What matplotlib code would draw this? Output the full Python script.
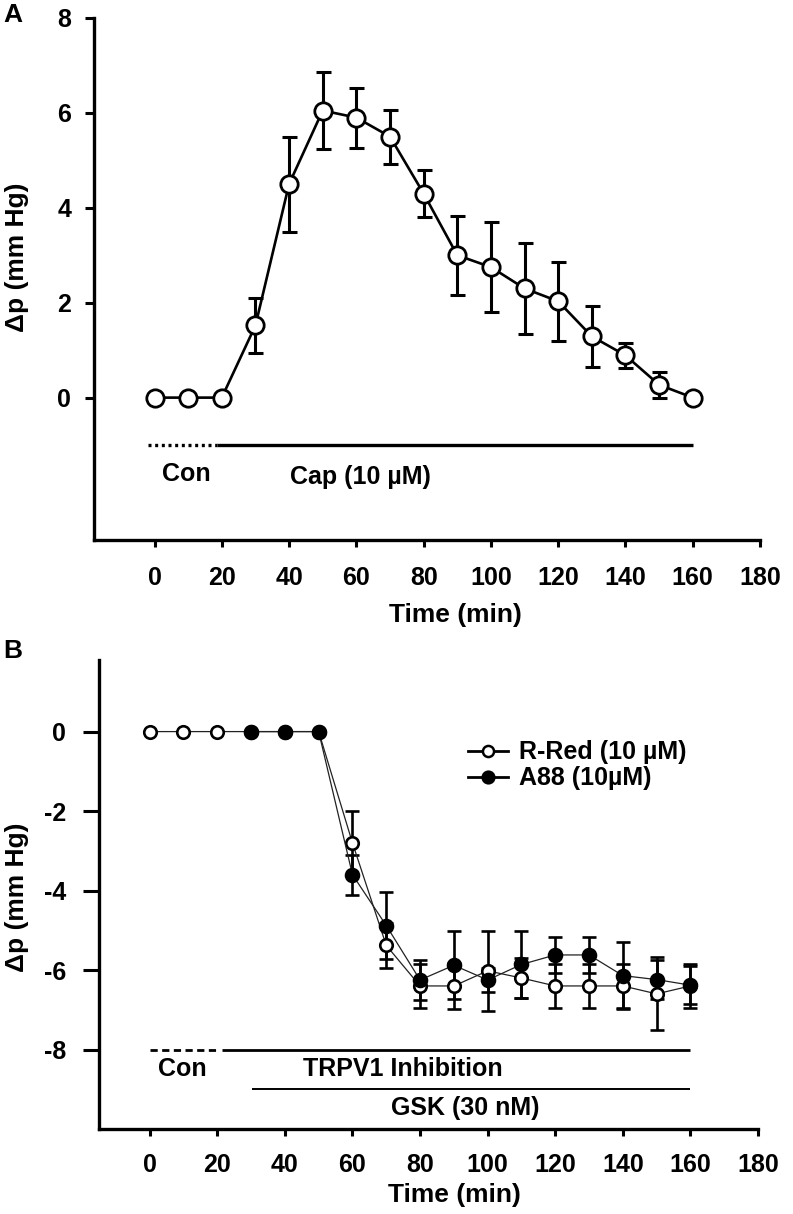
import matplotlib
matplotlib.use("Agg")
import matplotlib.pyplot as plt
from matplotlib.lines import Line2D

plt.rcParams['font.family'] = ['Liberation Sans', 'DejaVu Sans']
plt.rcParams['font.weight'] = 'bold'
plt.rcParams['axes.labelweight'] = 'bold'
plt.rcParams['axes.unicode_minus'] = False
plt.rcParams['font.size'] = 18

# panel A: capsaicin
time_a = [0, 10, 20, 30, 40, 50, 60, 70, 80, 90, 100, 110, 120, 130, 140, 150, 160]
cap_dp = [0, 0, 0, 1.52, 4.5, 6.05, 5.9, 5.5, 4.3, 3.0, 2.75, 2.3, 2.03, 1.29, 0.89, 0.27, 0.0]
cap_err = [0, 0, 0, 0.58, 1.0, 0.82, 0.63, 0.57, 0.5, 0.83, 0.95, 0.95, 0.83, 0.64, 0.27, 0.28, 0]

# panel B: TRPV1 inhibition + GSK
time_rred = [0, 10, 20, 30, 40, 50, 60, 70, 80, 90, 100, 110, 120, 130, 140, 150, 160]
rred_dp = [0, 0, 0, 0, 0, 0, -2.8, -5.38, -6.4, -6.4, -6.02, -6.2, -6.4, -6.4, -6.4, -6.6, -6.4]
rred_err = [0, 0, 0, 0, 0, 0, 0.8, 0.56, 0.56, 0.57, 1.0, 0.5, 0.56, 0.56, 0.56, 0.92, 0.56]
time_a88 = [30, 40, 50, 60, 70, 80, 90, 100, 110, 120, 130, 140, 150, 160]
a88_dp = [0, 0, 0, -3.6, -4.88, -6.25, -5.88, -6.25, -5.86, -5.62, -5.62, -6.14, -6.24, -6.38]
a88_err = [0, 0, 0, 0.5, 0.85, 0.5, 0.86, 0.3, 0.85, 0.46, 0.46, 0.85, 0.5, 0.48]

xticks = [0, 20, 40, 60, 80, 100, 120, 140, 160, 180]


def style_axes(ax, ytick_len, ypad, xpad):
    for s in ['top', 'right']:
        ax.spines[s].set_visible(False)
    for s in ['left', 'bottom']:
        ax.spines[s].set_linewidth(2.4)
    ax.tick_params(axis='x', direction='out', length=5, width=2.2, pad=xpad)
    ax.tick_params(axis='y', direction='out', length=ytick_len, width=2.2, pad=ypad)
    ax.set_xticks(xticks)


fig = plt.figure(figsize=(7.93, 12.14), dpi=100)

# ---- panel A
ax1 = fig.add_axes([0.1185, 0.5552, 0.8399, 0.4300])
ax1.errorbar(time_a, cap_dp, yerr=cap_err, fmt='none', ecolor='black',
             elinewidth=2.2, capsize=5.4, capthick=2.2, zorder=2)
ax1.plot(time_a, cap_dp, '-o', color='black', lw=1.9, ms=12.5, mew=2.0,
         mfc='white', mec='black', zorder=3)
ax1.plot([-2, 18.5], [-1, -1], color='black', lw=2.4, dashes=(0.9, 1.1),
         solid_capstyle='butt')
ax1.plot([18.5, 160], [-1, -1], color='black', lw=2.4, solid_capstyle='butt')
ax1.text(9.5, -1.62, 'Con', ha='center', va='center')
ax1.text(61.3, -1.68, 'Cap (10 µM)', ha='center', va='center')
ax1.set_xlim(-18, 180)
ax1.set_ylim(-3, 8)
ax1.set_yticks([0, 2, 4, 6, 8])
style_axes(ax1, 6.5, 10, 14)
ax1.set_xlabel('Time (min)', fontsize=19)
ax1.set_ylabel('Δp (mm Hg)', fontsize=19)
ax1.xaxis.set_label_coords(0.543, -0.121)
ax1.yaxis.set_label_coords(-0.098, 0.542)
fig.text(0.016, 0.988, 'A', fontsize=19, ha='center', va='center')

# ---- panel B
ax2 = fig.add_axes([0.1248, 0.0700, 0.8311, 0.3863])
ax2.errorbar(time_rred, rred_dp, yerr=rred_err, fmt='none', ecolor='black',
             elinewidth=1.9, capsize=4.7, capthick=1.9, zorder=2)
ax2.errorbar(time_a88, a88_dp, yerr=a88_err, fmt='none', ecolor='black',
             elinewidth=1.9, capsize=4.7, capthick=1.9, zorder=2)
ax2.plot(time_rred, rred_dp, '-o', color='#222222', lw=0.9, ms=9, mew=1.9,
         mfc='white', mec='black', zorder=3)
ax2.plot(time_a88, a88_dp, '-o', color='#222222', lw=0.9, ms=10, mew=1.2,
         mfc='black', mec='black', zorder=4)
ax2.plot([0, 19.5], [-8, -8], color='black', lw=2.0, dashes=(2.6, 1.6),
         solid_capstyle='butt')
ax2.plot([21.3, 160], [-8, -8], color='black', lw=2.0, solid_capstyle='butt')
ax2.plot([30.2, 160], [-9, -9], color='black', lw=1.4, solid_capstyle='butt')
ax2.text(9.8, -8.5, 'Con', ha='center', va='center')
ax2.text(74.9, -8.5, 'TRPV1 Inhibition', ha='center', va='center')
ax2.text(93.5, -9.47, 'GSK (30 nM)', ha='center', va='center')
handles = [
    Line2D([], [], color='black', lw=2.0, marker='o', ms=8, mew=1.8,
           mfc='white', mec='black'),
    Line2D([], [], color='black', lw=2.0, marker='o', ms=9, mew=1.2,
           mfc='black', mec='black'),
]
ax2.legend(handles, ['R-Red (10 µM)', 'A88 (10µM)'], loc='upper left',
           bbox_to_anchor=(0.545, 0.85), frameon=False, borderaxespad=0,
           handlelength=1.6, handletextpad=0.45, labelspacing=0.08,
           fontsize=18)
ax2.set_xlim(-15, 180)
ax2.set_ylim(-10, 1.8)
ax2.set_yticks([0, -2, -4, -6, -8])
style_axes(ax2, 11.5, 12, 12)
ax2.set_xlabel('Time (min)', fontsize=19)
ax2.set_ylabel('Δp (mm Hg)', fontsize=19)
ax2.xaxis.set_label_coords(0.539, -0.115)
ax2.yaxis.set_label_coords(-0.106, 0.495)
fig.text(0.016, 0.464, 'B', fontsize=19, ha='center', va='center')

fig.savefig('out.png', dpi=100)
